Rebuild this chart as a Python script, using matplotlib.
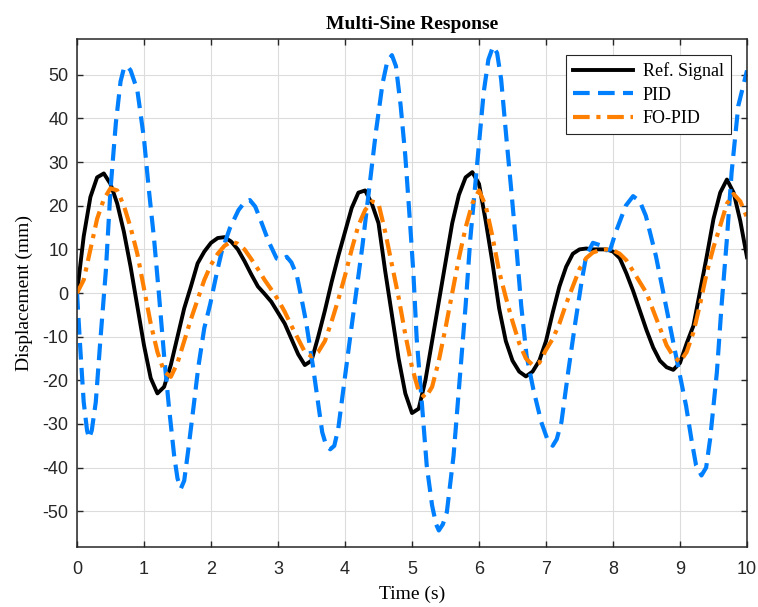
import numpy as np
import matplotlib
matplotlib.use("Agg")
import matplotlib.pyplot as plt

plt.rcParams["axes.unicode_minus"] = False

# time base for ref and FO-PID (read every 0.1 s)
t = np.round(np.arange(0, 101) * 0.1, 1)

ref_signal = [
    0, 13, 22, 26.5, 27.4, 25, 20.5, 14, 6, -3, -12, -19.5, -23, -21.5, -16.5,
    -10, -3.5, 1.5, 6.8, 9.5, 11.5, 12.6, 12.8, 11.8, 10, 7.3, 4.3, 1.5, -0.2, -2,
    -4.5, -7, -10.5, -14, -16.5, -15.5, -10, -4, 2.5, 8.5, 14, 19.5, 23, 23.5, 20.5,
    16, 5, -5, -15, -23, -27.5, -26.5, -20, -11, -2, 7, 16, 22.5, 26.5, 27.7,
    25, 16.5, 7, -3.5, -11, -15.5, -18, -19.1, -18, -15.5, -11, -4.5, 1.5, 6, 9,
    10, 10.2, 10, 10, 10, 9.5, 8, 4.5, 0.5, -4, -8.5, -12.5, -15.5, -17, -17.6,
    -16, -11.5, -7.5, 0.5, 8.5, 17, 23, 26, 23, 16.5, 8.2,
]

fopid = [
    0, 3, 10, 17, 21.5, 24, 23.5, 20, 15, 9, 1, -7, -13.5, -18, -19.2,
    -16, -11, -6, -1.5, 3, 6.5, 9, 10.8, 11.8, 11.3, 10, 7.8, 5.5, 3, 0.8,
    -1.5, -4.3, -7.5, -10.5, -13.5, -14.5, -13.5, -11, -6.5, -1.5, 4, 10, 15.5, 19, 21,
    20.5, 14, 6.5, -1, -9.5, -17, -22.5, -24, -21.5, -15.5, -8, 0, 8, 15, 20.5,
    23.5, 20, 13, 5, -1, -6.5, -11.5, -15, -16.5, -16, -13, -10.5, -7, -2.5, 1.5,
    5.5, 8, 9.3, 9.8, 10, 9.8, 9, 7.5, 5, 2.5, 0, -4, -8, -12, -14.5,
    -15.8, -13.5, -9, -2.5, 4.7, 10.5, 15.4, 20.5, 22.7, 21, 17.3,
]

# PID read at its own time points (denser near the sharp peaks)
t_pid = [
    0.00, 0.05, 0.10, 0.15, 0.18, 0.22, 0.28, 0.35, 0.43, 0.50, 0.58, 0.65, 0.70,
    0.75, 0.80, 0.90, 1.00, 1.07, 1.15, 1.22, 1.30, 1.37, 1.45, 1.50, 1.55, 1.60,
    1.66, 1.74, 1.81, 1.90, 1.99, 2.09, 2.16, 2.28, 2.41, 2.50, 2.58, 2.66, 2.73,
    2.86, 2.98, 3.05, 3.13, 3.20, 3.28, 3.35, 3.42, 3.52, 3.59, 3.66, 3.72, 3.78,
    3.84, 3.90, 3.97, 4.06, 4.16, 4.26, 4.36, 4.46, 4.56, 4.63, 4.70, 4.76, 4.83,
    4.90, 4.97, 5.02, 5.07, 5.15, 5.22, 5.30, 5.36, 5.40, 5.46, 5.52, 5.62, 5.72,
    5.80, 5.87, 5.97, 6.07, 6.14, 6.21, 6.27, 6.33, 6.41, 6.48, 6.56, 6.63, 6.71,
    6.81, 6.93, 7.02, 7.10, 7.16, 7.23, 7.33, 7.43, 7.53, 7.60, 7.70, 7.80, 7.90,
    7.96, 8.04, 8.19, 8.30, 8.40, 8.49, 8.64, 8.79, 8.94, 9.09, 9.17, 9.24, 9.32,
    9.39, 9.45, 9.55, 9.62, 9.70, 9.77, 9.87, 10.00,
]
pid = [
    0, -13, -25, -31.5, -33.3, -31.5, -25, -10.5, 5, 23.8, 39, 48.5, 51.5,
    52, 51, 46.5, 35.3, 24, 12.4, 0.2, -14.4, -25.8, -37.3, -42.5, -44.8, -43,
    -36, -26, -17, -8, -2.4, 4.9, 9.5, 14.8, 19, 20.8, 21.3, 19.8, 17.1,
    11.8, 7.9, 7.6, 8.3, 7, 4.1, -1.2, -6.7, -16.6, -24.3, -31.9, -35, -35.8,
    -35, -31, -22.7, -12.1, -0.6, 10.8, 23.8, 36.8, 48, 53, 54.5, 52, 43,
    31.4, 16.2, 4.7, -10.5, -25.8, -39.6, -48.7, -53, -54.4, -53, -50.2, -37.3, -18.2,
    -2.9, 12.4, 29.2, 46, 53.5, 56.5, 55, 49, 35.3, 23.8, 10.1, -2.9, -14.4,
    -22, -29.6, -33.5, -35, -33.5, -29.6, -18.2, -7.5, 2.5, 8.5, 11.5, 11, 9.8,
    10, 13.9, 20, 22.2, 21, 17.7, 8.5, -2.9, -14.4, -25.8, -33.5, -39.5, -41.8,
    -40, -33.4, -18.2, -2.9, 12.4, 27.6, 42.9, 51,
]

labels = ["Ref. Signal", "PID", "FO-PID"]
x_ticks = list(range(0, 11))
y_ticks = list(range(-50, 51, 10))

serif = ["Liberation Serif", "DejaVu Serif"]
sans = ["Liberation Sans", "DejaVu Sans"]

fig = plt.figure(figsize=(7.58, 6.07), dpi=100)
ax = fig.add_axes([0.1016, 0.0988, 0.8839, 0.8369])

ax.plot(t, ref_signal, color="black", lw=2.8, solid_joinstyle="round",
        label=labels[0])
ax.plot(t_pid, pid, color="#0080FF", lw=3, dashes=(4, 2),
        dash_joinstyle="round", label=labels[1])
ax.plot(t, fopid, color="#FF8000", lw=3, dashes=(4, 1.6, 1, 1.6),
        dash_joinstyle="round", label=labels[2])

ax.set_xlim(0, 10)
ax.set_ylim(-58.2, 58.2)
ax.set_xticks(x_ticks)
ax.set_yticks(y_ticks)
ax.grid(True, color="#dcdcdc", lw=0.8)
ax.set_axisbelow(True)

ax.tick_params(direction="in", length=4.5, width=1, colors="#262626",
               top=True, right=True, labelsize=13, pad=6)
ax.tick_params(axis="x", pad=10)
for lab in ax.get_xticklabels() + ax.get_yticklabels():
    lab.set_family(sans)
for sp in ax.spines.values():
    sp.set_color("#262626")
    sp.set_linewidth(1.1)

ax.set_title("Multi-Sine Response", family=serif, fontweight="bold", fontsize=14, pad=7)
ax.set_xlabel("Time (s)", family=serif, fontsize=14, labelpad=5.5)
ax.set_ylabel("Displacement (mm)", family=serif, fontsize=14, labelpad=7)

leg = ax.legend(loc="upper right", prop={"family": serif, "size": 13},
                fancybox=False, framealpha=1, edgecolor="#262626",
                handlelength=3.3, handletextpad=0.55, labelspacing=0.35,
                borderaxespad=0.9, borderpad=0.4)
leg.get_frame().set_linewidth(0.8)

fig.savefig("out.png", dpi=100)
